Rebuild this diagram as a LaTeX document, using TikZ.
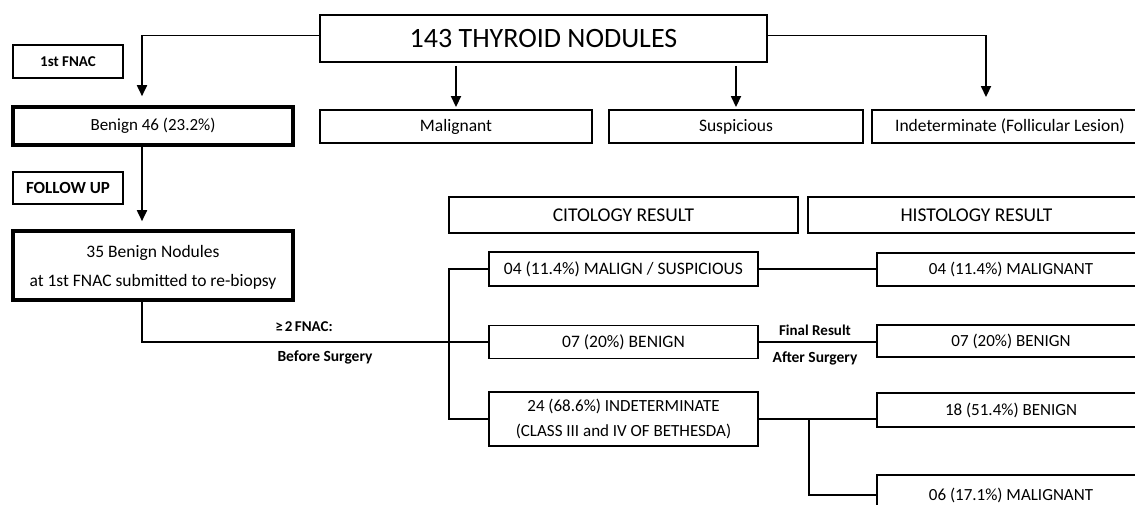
\documentclass[tikz,border=0pt]{standalone}
\usepackage{fontspec}
\setmainfont{Carlito}
\usetikzlibrary{arrows.meta,calc}
\newcommand\fs[1]{\fontsize{#1}{#1}\selectfont}
\tikzset{
  box/.style={draw, line width=1.9pt, inner sep=0pt, align=center,
    font=\fs{17.5}},
  thickbox/.style={box, line width=3.6pt},
  tag/.style={draw, line width=1.9pt, inner sep=0pt,
    font=\fs{15}\bfseries},
  lbl/.style={inner sep=0pt, font=\fs{15.5}\bfseries},
  link/.style={line width=1.8pt},
  arrowlink/.style={link, -{Triangle[width=10pt,length=11pt]}},
}
\begin{document}
\begin{tikzpicture}[x=1pt, y=-1pt]
\useasboundingbox (0,0) rectangle (1135,505);
\clip (0,0) rectangle (1135,505);
\fill[white] (0,0) rectangle (1135,505);

% first FNAC level
\node[box, font=\fs{28}, minimum width=447, minimum height=47] (title) at (543.5,38.5) {143 THYROID NODULES};
\node[tag, minimum width=110, minimum height=33] (fnac) at (68,61.5) {1st FNAC};
\node[thickbox, font=\fs{17}, minimum width=280, minimum height=38] (benign) at (153,126) {Benign 46 (23.2\%)};
\node[box, minimum width=272, minimum height=33] (malig) at (456,126.5) {Malignant};
\node[box, minimum width=254, minimum height=33] (susp) at (736,126.5) {Suspicious};
\node[box, minimum width=276, minimum height=33] (indet) at (1010,126.5) {Indeterminate (Follicular Lesion)};

% follow up
\node[tag, font=\fs{17}\bfseries, minimum width=110, minimum height=32] (follow) at (68,188) {FOLLOW UP};
\node[thickbox, minimum width=280, minimum height=69] (rebiopsy) at (153,265.5) {\rule{0pt}{16pt}35 Benign Nodules\\[11pt] at 1st FNAC submitted to re-biopsy};

% result headers
\node[box, font=\fs{19.5}, minimum width=349, minimum height=36] (cit) at (623.5,215) {CITOLOGY RESULT};
\node[box, font=\fs{19.5}, minimum width=337, minimum height=36] (hist) at (976.5,215) {HISTOLOGY RESULT};

% cytology results
\node[box, minimum width=269, minimum height=34] (c1) at (623.5,269) {04 (11.4\%) MALIGN / SUSPICIOUS};
\node[box, minimum width=269, minimum height=33] (c2) at (623.5,342) {07 (20\%) BENIGN};
\node[box, font=\fs{17}, minimum width=269, minimum height=54] (c3) at (623.5,419) {24 (68.6\%) INDETERMINATE\\[8pt] (CLASS III and IV OF BETHESDA)};

% histology results
\node[box, font=\fs{17}, minimum width=268, minimum height=33] (h1) at (1011,269.5) {04 (11.4\%) MALIGNANT};
\node[box, font=\fs{17}, minimum width=268, minimum height=32] (h2) at (1011,341) {07 (20\%) BENIGN};
\node[box, font=\fs{17}, minimum width=268, minimum height=34] (h3) at (1011,410) {18 (51.4\%) BENIGN};
\node[box, font=\fs{17}, minimum width=268, minimum height=40] (h4) at (1011,495) {06 (17.1\%) MALIGNANT};

% connectors from the nodule count
\draw[arrowlink, shorten >=9pt] ([yshift=3pt]title.west) -| ([xshift=-11pt]benign.north);
\draw[arrowlink, shorten <=3pt, shorten >=2pt] (title.south -| malig.north) -- (malig.north);
\draw[arrowlink, shorten <=3pt, shorten >=2pt] (title.south -| susp.north) -- (susp.north);
\draw[arrowlink, shorten >=12pt] ([yshift=3pt]title.east) -| ([xshift=-24pt]indet.north);

% follow up of benign nodules
\draw[arrowlink, shorten >=8pt] ([xshift=-11pt]benign.south) -- ([xshift=-11pt]rebiopsy.north);
\draw[link] ([xshift=-11pt]rebiopsy.south) |- (c2.west);
\node[lbl, font=\fs{15}\bfseries] (fnac2) at (304,327) {≥\hspace{2pt}2\hspace{2.5pt}FNAC:};
\node[lbl] (before) at (325,357) {Before Surgery};

% branching to cytology results
\coordinate (bus) at ([xshift=-39pt]c1.west);
\draw[link] (c1.west) -- (bus) |- (c3.west);

% cytology to histology
\draw[link] (c1.east) -- (c1.east -| h1.west);
\draw[link] (c2.east) -- (c2.east -| h2.west);
\node[lbl, font=\fs{15}\bfseries] (final) at (815,330) {Final Result};
\node[lbl] (after) at (815,358) {After Surgery};
\coordinate (split) at ([xshift=50pt]c3.east);
\draw[link] (c3.east) -- (c3.east -| h3.west);
\draw[link] (split) |- (h4.west);
\end{tikzpicture}
\end{document}
